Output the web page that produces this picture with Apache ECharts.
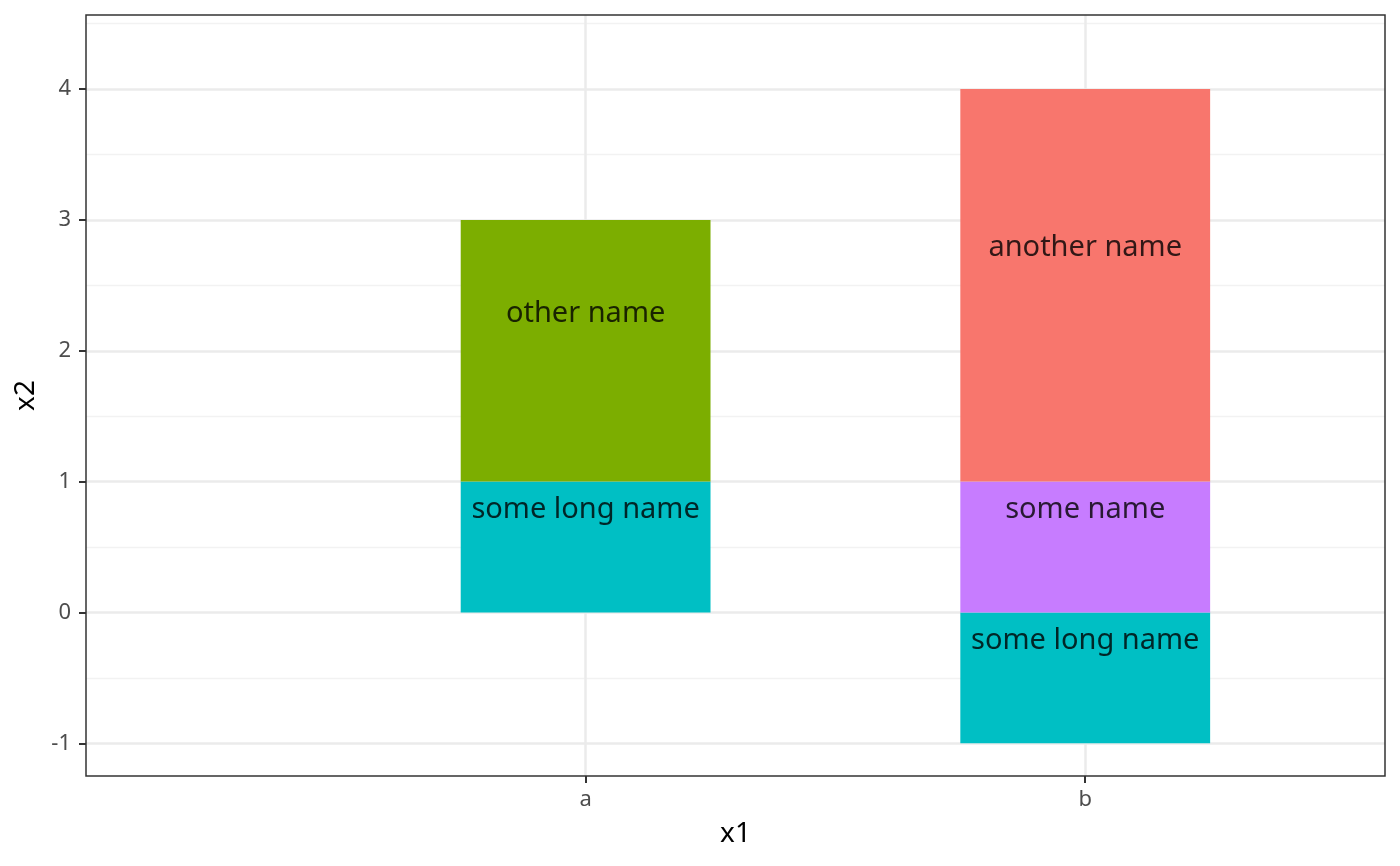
<!DOCTYPE html>
<html>
<head>
<meta charset="utf-8">
<script src="https://cdn.jsdelivr.net/npm/echarts@6/dist/echarts.min.js"></script>
<style>
  html, body { margin: 0; padding: 0; background: #fff; }
  #chart { width: 1400px; height: 866px; }
</style>
</head>
<body>
<div id="chart"></div>
<script>
// categories sit at x = 1 (a) and x = 2 (b) on a 0..2.6 panel
const categories = ['a', 'b'];
const catPos = [1, 2];
const xRange = [0, 2.6];

// stacked segment heights per fill group, aligned with categories (null = none)
const someLongName = [1, -1];
const someName = [null, 1];
const otherName = [2, null];
const anotherName = [null, 3];

// text labels: [category, y, text]
const labels = [
    ['a', 2.3, 'other name'],
    ['a', 0.8, 'some long name'],
    ['b', 2.8, 'another name'],
    ['b', 0.8, 'some name'],
    ['b', -0.2, 'some long name']
];

const yRange = [-1.25, 4.566];
const yTicks = [-1, 0, 1, 2, 3, 4];
const yMinor = [-0.5, 0.5, 1.5, 2.5, 3.5, 4.5];

const colors = {
    'another name': '#F8766D',
    'other name': '#7CAE00',
    'some long name': '#00BFC4',
    'some name': '#C77CFF'
};

const font = "'Noto Sans', 'Open Sans', sans-serif";

// panel geometry
const W = 1400, panelLeft = 86, panelRight = 15, panelTop = 15, panelBottom = 90;
const panelW = W - panelLeft - panelRight;
const unit = panelW / (xRange[1] - xRange[0]);
// bar grid: a category band of one unit around each category
const barLeft = panelLeft + (catPos[0] - 0.5 - xRange[0]) * unit;
const barRight = W - (panelLeft + (catPos[catPos.length - 1] + 0.5 - xRange[0]) * unit);

function barSeries(name, values) {
    return {
        name: name,
        type: 'bar',
        stack: 'total',
        xAxisIndex: 1,
        yAxisIndex: 2,
        barWidth: '50%',
        data: values.map(v => v == null ? '-' : v),
        itemStyle: { color: colors[name] },
        emphasis: { disabled: true },
        z: 3
    };
}

const myChart = echarts.init(document.getElementById('chart'));

const option = {
    animation: false,
    backgroundColor: '#fff',
    grid: [{
        left: panelLeft,
        right: panelRight,
        top: panelTop,
        bottom: panelBottom,
        show: true,
        borderColor: '#333333',
        borderWidth: 1.5,
        backgroundColor: 'transparent',
        z: 10
    }, {
        left: barLeft,
        right: barRight,
        top: panelTop,
        bottom: panelBottom
    }],
    xAxis: [{
        type: 'value',
        gridIndex: 0,
        min: xRange[0],
        max: xRange[1],
        name: 'x1',
        nameLocation: 'middle',
        nameGap: 44,
        nameTextStyle: { fontFamily: font, fontSize: 28, color: '#000' },
        axisLine: { show: false, onZero: false },
        axisTick: {
            show: true,
            customValues: catPos,
            length: 7,
            lineStyle: { color: '#333333', width: 2 }
        },
        axisLabel: {
            customValues: catPos,
            formatter: (v) => categories[catPos.indexOf(v)] || '',
            fontFamily: font,
            fontSize: 22,
            color: '#4D4D4D',
            margin: 13
        },
        splitLine: { show: true, lineStyle: { color: '#EBEBEB', width: 2.5 } }
    }, {
        type: 'category',
        gridIndex: 1,
        data: categories,
        show: false
    }],
    yAxis: [{
        type: 'value',
        gridIndex: 0,
        min: yRange[0],
        max: yRange[1],
        name: 'x2',
        nameLocation: 'middle',
        nameGap: 44,
        nameTextStyle: { fontFamily: font, fontSize: 28, color: '#000' },
        axisLine: { show: false, onZero: false },
        axisTick: {
            show: true,
            customValues: yTicks,
            length: 7,
            lineStyle: { color: '#333333', width: 2 }
        },
        axisLabel: {
            customValues: yTicks,
            fontFamily: font,
            fontSize: 22,
            color: '#4D4D4D',
            margin: 15
        },
        splitLine: { show: true, lineStyle: { color: '#EBEBEB', width: 2.5 } }
    }, {
        // minor grid only
        type: 'value',
        gridIndex: 0,
        min: yRange[0],
        max: yRange[1],
        position: 'left',
        axisLine: { show: false, onZero: false },
        axisTick: { show: false, customValues: yMinor },
        axisLabel: { show: false, customValues: yMinor },
        splitLine: { show: true, lineStyle: { color: '#F2F2F2', width: 1.3 } }
    }, {
        type: 'value',
        gridIndex: 1,
        min: yRange[0],
        max: yRange[1],
        show: false,
        splitLine: { show: false }
    }],
    series: [
        barSeries('some long name', someLongName),
        barSeries('some name', someName),
        barSeries('other name', otherName),
        barSeries('another name', anotherName),
        {
            type: 'scatter',
            xAxisIndex: 1,
            yAxisIndex: 2,
            data: labels,
            symbolSize: 1,
            itemStyle: { color: 'rgba(0,0,0,0)' },
            z: 5,
            label: {
                show: true,
                position: 'inside',
                offset: [0, 2],
                formatter: (p) => p.value[2],
                fontFamily: font,
                fontSize: 29,
                color: '#000000'
            },
            emphasis: { disabled: true }
        }
    ]
};

option && myChart.setOption(option);
</script>
</body>
</html>
